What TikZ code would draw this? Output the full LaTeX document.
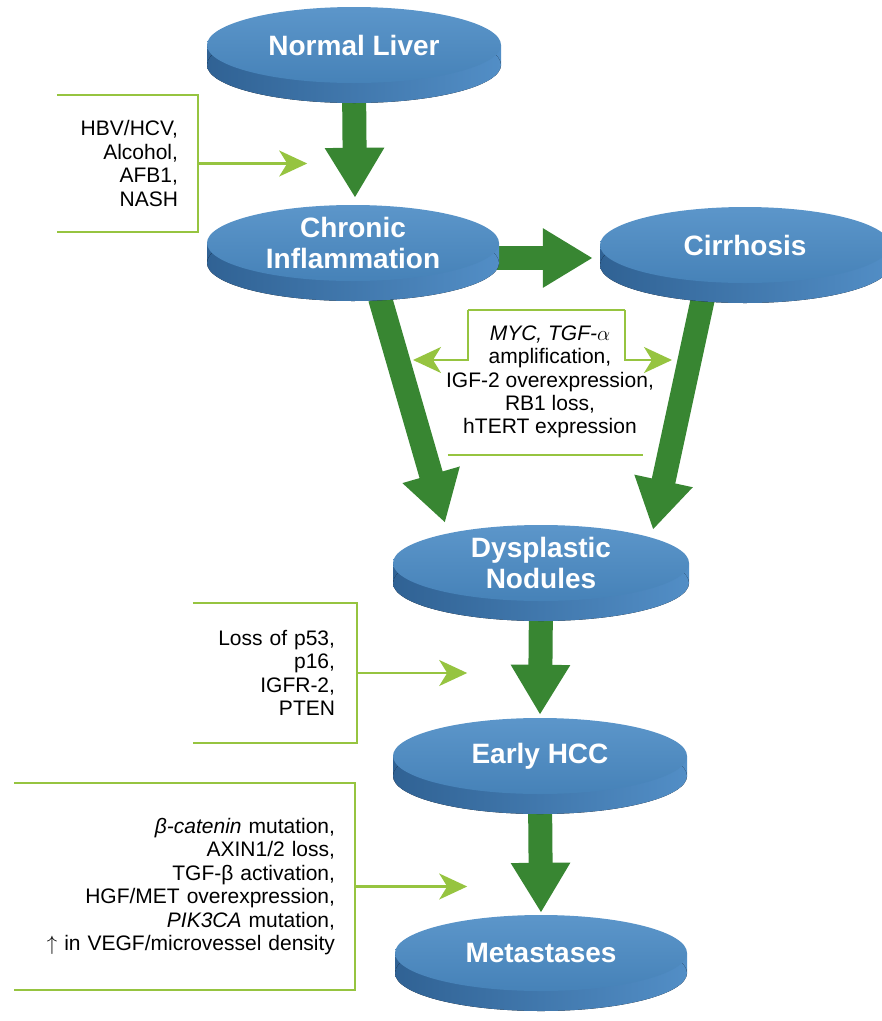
\documentclass[tikz,border=0pt]{standalone}
\usepackage{fontspec}
\setmainfont{Liberation Sans}
\usepackage{tikz}
\usetikzlibrary{arrows.meta,calc,shapes.geometric}
\pgfdeclarelayer{bg}
\pgfsetlayers{bg,main}
\definecolor{diskhi}{RGB}{92,150,202}
\definecolor{disklo}{RGB}{70,130,184}
\definecolor{sidedark}{RGB}{48,98,148}
\definecolor{sidelight}{RGB}{82,142,198}
\definecolor{leafgreen}{RGB}{56,134,50}
\definecolor{limegreen}{RGB}{150,196,64}

\begin{document}
\begin{tikzpicture}[x=1pt,y=-1pt,
  disk/.style={ellipse,minimum height=76pt,inner sep=0pt,top color=diskhi,bottom color=disklo},
  diskside/.style={left color=sidedark,right color=sidelight},
  disklabel/.style={text=white,font=\bfseries\fontsize{28}{31}\selectfont,align=center,inner sep=0pt},
  causes/.style={font=\fontsize{21}{23.4}\selectfont,align=right,inner ysep=0pt},
  bracket/.style={draw=limegreen,line width=2.2pt},
  thinarrow/.style={bracket,-{Stealth[length=28pt,width=26pt,inset=8pt]}},
  fatarrow/.style={draw=leafgreen,line width=24pt,-{Triangle[length=50pt,width=56pt]}}]
\useasboundingbox (0,0) rectangle (882,1021);

% sides of the disks
\foreach \cx/\cy/\rx in {354/45/147, 353/243/146, 745/245/145, 541/563/148, 540/756/147, 541/953/146}{
  \fill[diskside] (\cx-\rx,\cy) rectangle (\cx+\rx,\cy+20);
  \fill[diskside] (\cx,\cy+20) ellipse [x radius=\rx, y radius=38];
}

% tops of the disks
\node[disk,minimum width=294pt] (normal) at (354,45) {};
\node[disklabel] (normalT) at (normal.center) {Normal Liver};
\node[disk,minimum width=292pt] (chronic) at (353,243) {};
\node[disklabel] (chronicT) at (chronic.center) {Chronic\\Inflammation};
\node[disk,minimum width=290pt] (cirrhosis) at (745,245) {};
\node[disklabel] (cirrhosisT) at (cirrhosis.center) {Cirrhosis};
\node[disk,minimum width=296pt] (dysplastic) at (541,563) {};
\node[disklabel] (dysplasticT) at (dysplastic.center) {Dysplastic\\Nodules};
\node[disk,minimum width=294pt] (early) at (540,756) {};
\node[disklabel] (earlyT) at (early.center) {Early HCC};
\node[disk,minimum width=292pt] (meta) at (541,953) {};
\node[disklabel] (metaT) at (meta.center) {Metastases};

% big arrows behind the disks
\begin{pgfonlayer}{bg}
\draw[fatarrow] (normal.south) -- ($(chronic.north)+(2,-7)$);
\draw[fatarrow] ($(chronic.east)+(-15,15)$) -- ($(cirrhosis.west)+(-7,13)$);
\draw[fatarrow] ($(chronic.south)+(27,17)$) -- ($(dysplastic.north)+(-96,-2)$);
\draw[fatarrow] ($(cirrhosis.south)+(-42,15)$) -- ($(dysplastic.north)+(112,5)$);
\draw[fatarrow] (dysplastic.south) -- ($(early.north)+(0,-3)$);
\draw[fatarrow] (early.south) -- ($(meta.north)+(0,-2)$);
\end{pgfonlayer}

% causes
\node[causes,text width=101pt,inner xsep=20pt,minimum height=137pt] (box1) at (127.5,163.5)
  {HBV/HCV,\\Alcohol,\\AFB1,\\NASH};
\draw[bracket] (box1.north west) -- (box1.north east) -- (box1.south east) -- (box1.south west);
\coordinate (hit1) at ($(box1.east)+(109,0)$);
\draw[thinarrow] (box1.east) -- (hit1);

\node[minimum width=157pt,minimum height=145pt,inner sep=0pt] (box2) at (546.5,382.5) {};
\node[causes,align=center] (box2T) at (550,382)
  {\textit{MYC, TGF-}$\alpha$\\amplification,\\IGF-2 overexpression,\\RB1 loss,\\hTERT expression};
\draw[bracket] (box2.north west) -- (box2.north east);
\coordinate (hit2l) at (413,360);
\coordinate (hit2r) at (672,360);
\draw[thinarrow] (box2.north west) |- (hit2l);
\draw[thinarrow] (box2.north east) |- (hit2r);
\draw[bracket] ($(box2.south west)+(-20,0)$) -- ($(box2.south east)+(18,0)$);

\node[causes,text width=120pt,inner xsep=22pt,minimum height=140pt] (box3) at (275,673)
  {Loss of p53,\\p16,\\IGFR-2,\\PTEN};
\draw[bracket] (box3.north west) -- (box3.north east) -- (box3.south east) -- (box3.south west);
\coordinate (hit3) at ($(box3.east)+(110,0)$);
\draw[thinarrow] (box3.east) -- (hit3);

\node[causes,text width=301pt,inner xsep=20pt,minimum height=207pt] (box4) at (184.5,886.5)
  {\textit{β-catenin} mutation,\\AXIN1/2 loss,\\TGF-β activation,\\HGF/MET overexpression,\\\textit{PIK3CA} mutation,\\$\uparrow$ in VEGF/microvessel density};
\draw[bracket] (box4.north west) -- (box4.north east) -- (box4.south east) -- (box4.south west);
\coordinate (hit4) at ($(box4.east)+(112,0)$);
\draw[thinarrow] (box4.east) -- (hit4);
\end{tikzpicture}
\end{document}
